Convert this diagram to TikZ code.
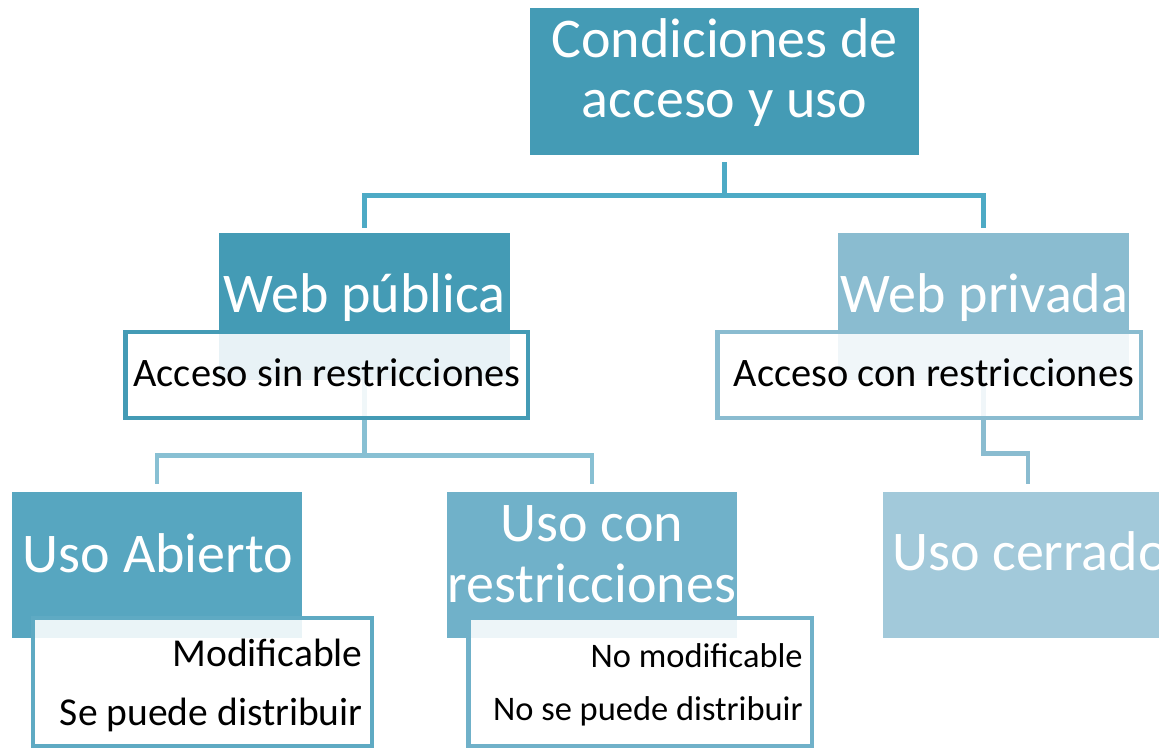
\documentclass[tikz,border=0pt]{standalone}
\usepackage{fontspec}
\setmainfont{Carlito}
\usetikzlibrary{positioning}
\definecolor{tealA}{HTML}{449BB5}
\definecolor{tealB}{HTML}{57A6C0}
\definecolor{tealC}{HTML}{70B1C9}
\definecolor{tealD}{HTML}{8ABCD0}
\definecolor{tealE}{HTML}{A2C9DA}
\definecolor{lineA}{HTML}{4DAAC5}
\definecolor{lineB}{HTML}{88C0D3}

\begin{document}
\begin{tikzpicture}[x=0.02cm,y=-0.02cm,
  bigbox/.style={rectangle,inner sep=0pt,minimum width=5.82cm,minimum height=2.94cm},
  bigtxt/.style={text=white,font=\fontsize{31.9}{34.5}\selectfont,inner sep=0pt,anchor=base},
  notebox/.style={rectangle,draw,line width=2.8pt,fill=white,fill opacity=0.88,inner sep=0pt},
  notetxt/.style={text=black,inner sep=0pt},
  link/.style={line width=2.8pt}]

  \useasboundingbox (0,0) rectangle (1159,749);
  \clip (0,0) rectangle (1159,749);

  % Level 0: root box
  \node[bigbox,fill=tealA,minimum width=7.78cm] (cond) at (724.5,81.5) {};

  % Level 1: web boxes
  \node[bigbox,fill=tealA] (wpub) at (364.5,306.5) {};
  \node[bigbox,fill=tealD] (wpriv) at (983.5,306.5) {};

  % Level 2: use boxes
  \node[bigbox,fill=tealB] (uab) at (157,565) {};
  \node[bigbox,fill=tealC] (ucr) at (592,565) {};
  \node[bigbox,fill=tealE] (ucer) at (1028,565) {};

  % Connectors
  \draw[link,lineA,shorten <=0.14cm,shorten >=0.1cm] (cond.south) -- ++(0,40) -| (wpub.north);
  \draw[link,lineA,shorten <=0.14cm,shorten >=0.1cm] (cond.south) -- ++(0,40) -| (wpriv.north);
  \draw[link,lineB,shorten >=0.14cm] (wpub.south) -- ++(0,75) -| (uab.north);
  \draw[link,lineB,shorten >=0.14cm] (wpub.south) -- ++(0,75) -| (ucr.north);
  \draw[link,tealD,shorten >=0.14cm] (wpriv.south) -- ++(0,73) -| (ucer.north);

  % Notes over the boxes
  \node[notebox,draw=tealA,minimum width=8.06cm,minimum height=1.72cm] (nsin) at (326.5,375) {};
  \node[notebox,draw=tealD,minimum width=8.48cm,minimum height=1.72cm] (ncon) at (929,375) {};
  \node[notebox,draw=tealB!95!white,minimum width=6.78cm,minimum height=2.56cm] (nab) at (202.5,682) {};
  \node[notebox,draw=tealC,minimum width=6.88cm,minimum height=2.56cm] (nrs) at (640,682) {};

  % Box texts
  \node[bigtxt,align=center] (condtxt) at (724.5,118) {Condiciones de\\acceso y uso};
  \node[bigtxt] (wpubtxt) at (364.5,313) {Web pública};
  \node[bigtxt] (wprivtxt) at (984.5,313) {Web privada};
  \node[bigtxt] (uabtxt) at (158,572) {Uso Abierto};
  \node[bigtxt,align=center] (ucrtxt) at (592,602) {Uso con\\restricciones};
  \node[bigtxt] (ucertxt) at (1030,570) {Uso cerrado};

  % Note texts
  \node[notetxt,font=\fontsize{23}{27}\selectfont,anchor=base] (accsin) at (327,387) {Acceso sin restricciones};
  \node[notetxt,font=\fontsize{23}{27}\selectfont,anchor=base] (acccon) at (934,387) {Acceso con restricciones};
  \node[notetxt,font=\fontsize{22.5}{26}\selectfont,anchor=base east] (modif) at (363,666) {Modificable};
  \node[notetxt,font=\fontsize{22.5}{26}\selectfont,anchor=base east] (distr) at (363,725) {Se puede distribuir};
  \node[notetxt,font=\fontsize{19.6}{23}\selectfont,anchor=base east] (nomod) at (803,667) {No modificable};
  \node[notetxt,font=\fontsize{19.6}{23}\selectfont,anchor=base east] (nodis) at (803,720) {No se puede distribuir};
\end{tikzpicture}
\end{document}
